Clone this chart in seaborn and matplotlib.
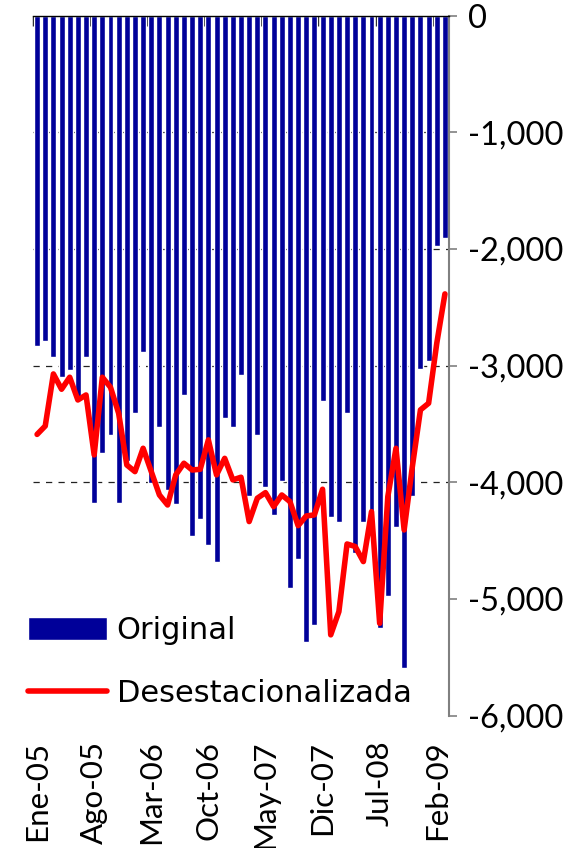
import numpy as np
import pandas as pd
import seaborn as sns
import matplotlib.pyplot as plt
from matplotlib.ticker import FixedLocator

# meses Ene-05 .. Mar-09
meses_abr = ["Ene", "Feb", "Mar", "Abr", "May", "Jun", "Jul", "Ago", "Sep", "Oct", "Nov", "Dic"]
meses = [f"{m}-{a:02d}" for a in range(5, 10) for m in meses_abr][:51]

original = [-2830, -2790, -2930, -3100, -3035, -3275, -2930, -4180, -3746, -3592,
            -4180, -3815, -3403, -2881, -4009, -3523, -4066, -4183, -3249, -4457,
            -4312, -4535, -4680, -3449, -3526, -3078, -4117, -3592, -4037, -4283,
            -3986, -4903, -4655, -5366, -5220, -3301, -4300, -4340, -3404, -4603,
            -4340, -4252, -5246, -4971, -4380, -5589, -4114, -3032, -2958, -1972,
            -1904]

desestacionalizada = [-3590, -3518, -3072, -3203, -3100, -3295, -3252, -3766, -3100, -3186,
                      -3409, -3852, -3909, -3709, -3909, -4109, -4195, -3937, -3837, -3895,
                      -3889, -3637, -3937, -3795, -3980, -3957, -4337, -4137, -4089, -4209,
                      -4109, -4166, -4372, -4289, -4280, -4060, -5308, -5109, -4529, -4551,
                      -4680, -4252, -5209, -4123, -3709, -4409, -3870, -3380, -3323, -2809,
                      -2386]

y_ticks = [0, -1000, -2000, -3000, -4000, -5000, -6000]
y_labels = ["0", "-1,000", "-2,000", "-3,000", "-4,000", "-5,000", "-6,000"]
grid_y = [-1000, -2000, -3000, -4000]

df = pd.DataFrame({"pos": np.arange(len(meses)), "mes": meses,
                   "original": original, "desest": desestacionalizada})

sns.set_style("white")
plt.rcParams["font.family"] = ["Lato", "DejaVu Sans"]
plt.rcParams["text.color"] = "black"
plt.rcParams["xtick.labelcolor"] = "black"
plt.rcParams["ytick.labelcolor"] = "black"

fig = plt.figure(figsize=(5.79, 8.48), dpi=100)
ax = fig.add_axes([33 / 579, 1 - 715.6 / 848, (449 - 33) / 579, (715.6 - 15.5) / 848])

# lineas de division (solo hasta -4,000, como en el original)
for g in grid_y:
    ax.axhline(g, linestyle=(0, (5, 5)), color="#222222", lw=0.9, zorder=1)

sns.barplot(data=df, x="pos", y="original", color="#000099", saturation=1,
            width=0.73, errorbar=None, ax=ax, zorder=2)
sns.lineplot(data=df, x="pos", y="desest", color="#ff0000", lw=4,
             errorbar=None, ax=ax, zorder=3)

ax.set_xlim(-0.5, len(meses) - 0.5)
ax.set_ylim(-6000, 0)
ax.set_xlabel("")
ax.set_ylabel("")

# eje x: etiquetas cada 7 meses abajo, marcas arriba
ax.xaxis.set_major_locator(FixedLocator(list(range(0, len(meses), 7))))
ax.set_xticklabels(meses[::7], rotation=90, va="top", ha="center", fontsize=22.5)
ax.xaxis.set_minor_locator(FixedLocator(list(np.arange(-0.5, len(meses), 7))))
ax.tick_params(axis="x", which="major", bottom=False, top=False, length=0, pad=18)
ax.tick_params(axis="x", which="minor", bottom=False, top=True, direction="in",
               length=7, width=1, color="black")

# eje y a la derecha
ax.yaxis.tick_right()
ax.set_yticks(y_ticks)
ax.set_yticklabels(y_labels, fontsize=23.5)
ax.tick_params(axis="y", which="major", right=True, left=False, direction="out",
               length=6, width=1.2, color="#808080", pad=8)
ax.grid(False)

for s in ["left", "bottom"]:
    ax.spines[s].set_visible(False)
ax.spines["right"].set_color("#808080")
ax.spines["right"].set_linewidth(1.5)
ax.spines["top"].set_color("black")
ax.spines["top"].set_linewidth(1)

ax.legend(handles=[ax.containers[0], ax.lines[-1]],
          labels=["Original", "Desestacionalizada"],
          loc="upper left", bbox_to_anchor=(28 / 579, 1 - 616 / 848),
          bbox_transform=fig.transFigure, frameon=False, borderpad=0,
          borderaxespad=0, handlelength=2.6, handleheight=0.75,
          handletextpad=0.3, labelspacing=1.1,
          prop={"family": "DejaVu Sans", "size": 22})

fig.savefig("out.png", dpi=100)
